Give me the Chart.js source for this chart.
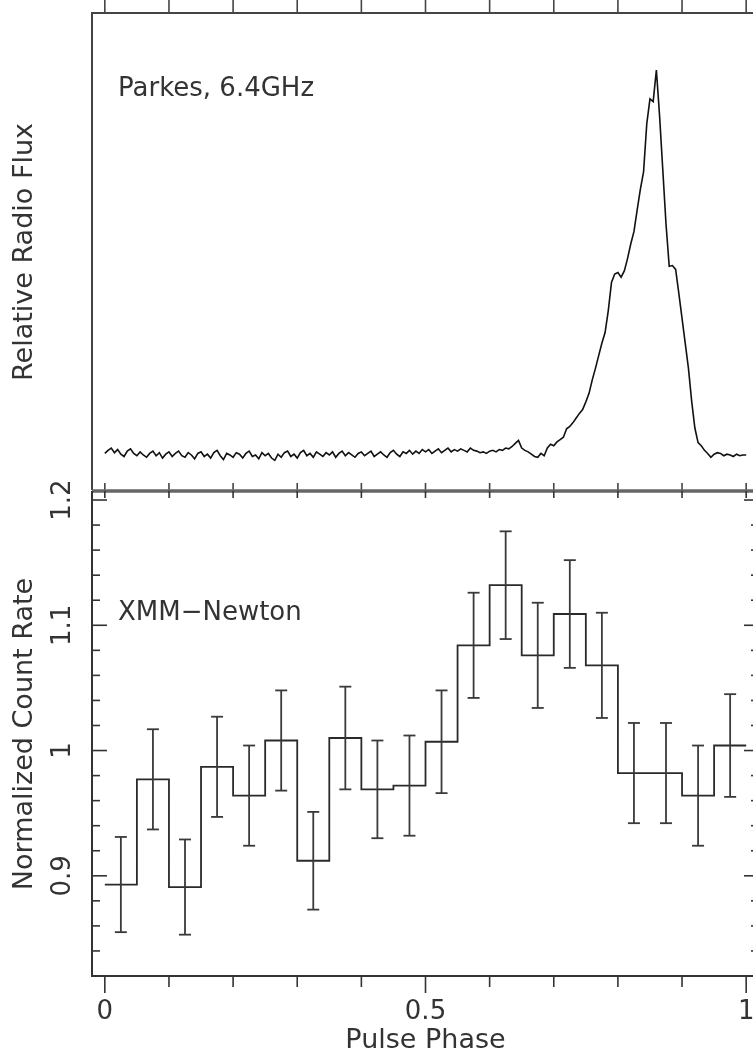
<!DOCTYPE html>
<html>
<head>
<meta charset="utf-8">
<title>Pulse profiles</title>
<script src="https://cdn.jsdelivr.net/npm/chart.js@4.4.1/dist/chart.umd.min.js"></script>
<style>
  html, body { margin: 0; padding: 0; background: #fff; overflow: hidden; width: 753px; height: 1050px; }
  canvas { position: absolute; left: 0; top: 0; }
</style>
</head>
<body>
<canvas id="radioChart" width="770" height="1050"></canvas>
<canvas id="xrayChart" width="770" height="1050"></canvas>
<script>
// --- radio profile (Parkes 6.4 GHz), relative flux, baseline ~0, peak 1
const radioPhase = [
  0.000, 0.005, 0.010, 0.015, 0.020, 0.025, 0.030, 0.035, 0.040, 0.045,
  0.050, 0.055, 0.060, 0.065, 0.070, 0.075, 0.080, 0.085, 0.090, 0.095,
  0.100, 0.105, 0.110, 0.115, 0.120, 0.125, 0.130, 0.135, 0.140, 0.145,
  0.150, 0.155, 0.160, 0.165, 0.170, 0.175, 0.180, 0.185, 0.190, 0.195,
  0.200, 0.205, 0.210, 0.215, 0.220, 0.225, 0.230, 0.235, 0.240, 0.245,
  0.250, 0.255, 0.260, 0.265, 0.270, 0.275, 0.280, 0.285, 0.290, 0.295,
  0.300, 0.305, 0.310, 0.315, 0.320, 0.325, 0.330, 0.335, 0.340, 0.345,
  0.350, 0.355, 0.360, 0.365, 0.370, 0.375, 0.380, 0.385, 0.390, 0.395,
  0.400, 0.405, 0.410, 0.415, 0.420, 0.425, 0.430, 0.435, 0.440, 0.445,
  0.450, 0.455, 0.460, 0.465, 0.470, 0.475, 0.480, 0.485, 0.490, 0.495,
  0.500, 0.505, 0.510, 0.515, 0.520, 0.525, 0.530, 0.535, 0.540, 0.545,
  0.550, 0.555, 0.560, 0.565, 0.570, 0.575, 0.580, 0.585, 0.590, 0.595,
  0.600, 0.605, 0.610, 0.615, 0.620, 0.625, 0.630, 0.635, 0.640, 0.645,
  0.650, 0.655, 0.660, 0.665, 0.670, 0.675, 0.680, 0.685, 0.690, 0.695,
  0.700, 0.705, 0.710, 0.715, 0.720, 0.725, 0.730, 0.735, 0.740, 0.745,
  0.750, 0.755, 0.760, 0.765, 0.770, 0.775, 0.780, 0.785, 0.790, 0.795,
  0.800, 0.805, 0.810, 0.815, 0.820, 0.825, 0.830, 0.835, 0.840, 0.845,
  0.850, 0.855, 0.860, 0.865, 0.870, 0.875, 0.880, 0.885, 0.890, 0.895,
  0.900, 0.905, 0.910, 0.915, 0.920, 0.925, 0.930, 0.935, 0.940, 0.945,
  0.950, 0.955, 0.960, 0.965, 0.970, 0.975, 0.980, 0.985, 0.990, 0.995,
  1.000
];
const radioFlux = [
  0.004, 0.012, 0.018, 0.006, 0.014, 0.002, -0.004, 0.010, 0.016, 0.004,
  -0.002, 0.008, 0.000, -0.006, 0.004, 0.010, -0.002, 0.006, -0.008, 0.002,
  0.008, -0.004, 0.004, 0.010, -0.002, -0.006, 0.006, 0.000, -0.010, 0.004,
  0.008, -0.004, 0.002, -0.008, 0.006, 0.012, -0.002, -0.012, 0.004, 0.000,
  -0.006, 0.006, 0.002, -0.008, 0.004, 0.010, -0.004, 0.000, -0.010, 0.006,
  -0.002, 0.004, -0.008, -0.014, 0.002, -0.006, 0.006, 0.010, -0.004, 0.002,
  -0.008, 0.006, 0.012, -0.002, 0.004, -0.006, 0.008, 0.002, -0.004, 0.006,
  0.000, 0.008, -0.006, 0.004, 0.010, -0.002, 0.006, 0.000, -0.006, 0.004,
  0.008, -0.002, 0.004, 0.010, -0.004, 0.002, 0.008, 0.000, -0.006, 0.006,
  0.012, 0.002, -0.004, 0.008, 0.004, 0.012, 0.002, 0.010, 0.004, 0.014,
  0.008, 0.014, 0.004, 0.010, 0.016, 0.006, 0.012, 0.018, 0.008, 0.014,
  0.010, 0.016, 0.012, 0.008, 0.018, 0.012, 0.010, 0.006, 0.008, 0.004,
  0.010, 0.012, 0.008, 0.014, 0.012, 0.018, 0.016, 0.022, 0.030, 0.038,
  0.018, 0.012, 0.008, 0.002, -0.004, -0.006, 0.004, -0.002, 0.018, 0.028,
  0.024, 0.034, 0.040, 0.046, 0.068, 0.074, 0.084, 0.096, 0.108, 0.118,
  0.138, 0.160, 0.195, 0.225, 0.258, 0.290, 0.318, 0.375, 0.448, 0.470,
  0.474, 0.462, 0.478, 0.510, 0.548, 0.580, 0.636, 0.690, 0.735, 0.860,
  0.925, 0.918, 1.000, 0.880, 0.740, 0.600, 0.490, 0.492, 0.482, 0.420,
  0.355, 0.290, 0.225, 0.140, 0.070, 0.032, 0.024, 0.012, 0.004, -0.006,
  0.002, 0.006, 0.004, -0.002, 0.002, 0.000, -0.004, 0.002, -0.002, 0.000,
  0.000
];

// --- XMM-Newton folded light curve, 20 phase bins
const binCenters = [0.025, 0.075, 0.125, 0.175, 0.225, 0.275, 0.325, 0.375, 0.425, 0.475,
                    0.525, 0.575, 0.625, 0.675, 0.725, 0.775, 0.825, 0.875, 0.925, 0.975];
const binWidth = 0.05;
const countRate = [0.893, 0.977, 0.891, 0.987, 0.964, 1.008, 0.912, 1.010, 0.969, 0.972,
                   1.007, 1.084, 1.132, 1.076, 1.109, 1.068, 0.982, 0.982, 0.964, 1.004];
const rateErr = [0.038, 0.040, 0.038, 0.040, 0.040, 0.040, 0.039, 0.041, 0.039, 0.040,
                 0.041, 0.042, 0.043, 0.042, 0.043, 0.042, 0.040, 0.040, 0.040, 0.041];

// --- axes / ticks
const xTickValues = [0, 0.1, 0.2, 0.3, 0.4, 0.5, 0.6, 0.7, 0.8, 0.9, 1];
const xMajorTicks = [0, 0.5, 1];
const xTickLabels = ['0', '0.5', '1'];
const yMinorTicks = [0.82, 0.84, 0.86, 0.88, 0.92, 0.94, 0.96, 0.98,
                     1.02, 1.04, 1.06, 1.08, 1.12, 1.14, 1.16, 1.18];
const yMajorTicks = [0.9, 1, 1.1, 1.2];
const yTickLabels = ['0.9', '1', '1.1', '1.2'];

const radioLabel = 'Parkes, 6.4GHz';
const xrayLabel = 'XMM\u2212Newton';
const radioYTitle = 'Relative Radio Flux';
const xrayYTitle = 'Normalized Count Rate';
const xTitle = 'Pulse Phase';

const FONT = '"DejaVu Sans", sans-serif';
const INK = '#333';

function seg(ctx, x1, y1, x2, y2) {
  ctx.beginPath();
  ctx.moveTo(x1, y1);
  ctx.lineTo(x2, y2);
  ctx.stroke();
}

function rotatedText(ctx, text, x, y, size) {
  ctx.save();
  ctx.translate(x, y);
  ctx.rotate(-Math.PI / 2);
  ctx.font = size + 'px ' + FONT;
  ctx.textAlign = 'center';
  ctx.textBaseline = 'middle';
  ctx.fillText(text, 0, 0);
  ctx.restore();
}

// frame + ticks for the radio panel
const radioFrame = {
  id: 'radioFrame',
  afterDraw(chart) {
    const { ctx, chartArea: a, scales: { x } } = chart;
    ctx.save();
    ctx.strokeStyle = '#444';
    ctx.lineWidth = 2;
    ctx.beginPath();
    ctx.moveTo(a.left, a.bottom);
    ctx.lineTo(a.left, a.top);
    ctx.lineTo(a.right, a.top);
    ctx.lineTo(a.right, a.bottom);
    ctx.stroke();
    ctx.lineWidth = 1.6;
    xTickValues.forEach(v => {
      const px = x.getPixelForValue(v);
      seg(ctx, px, a.top, px, 0);            // ticks of the panel above
      seg(ctx, px, a.bottom - 7, px, a.bottom);
    });
    ctx.fillStyle = INK;
    ctx.font = '26px ' + FONT;
    ctx.textAlign = 'left';
    ctx.textBaseline = 'alphabetic';
    ctx.fillText(radioLabel, 118, 96);
    rotatedText(ctx, radioYTitle, 25, 252, 27);
    ctx.restore();
  }
};

// frame, ticks, labels and error bars for the X-ray panel
const xrayFrame = {
  id: 'xrayFrame',
  afterDatasetsDraw(chart) {
    const { ctx, scales: { x, y } } = chart;
    ctx.save();
    ctx.strokeStyle = '#3a3a3a';
    ctx.lineWidth = 1.8;
    binCenters.forEach((c, i) => {
      const px = x.getPixelForValue(c);
      const top = y.getPixelForValue(countRate[i] + rateErr[i]);
      const bot = y.getPixelForValue(countRate[i] - rateErr[i]);
      seg(ctx, px, top, px, bot);
      seg(ctx, px - 6, top, px + 6, top);
      seg(ctx, px - 6, bot, px + 6, bot);
    });
    ctx.restore();
  },
  afterDraw(chart) {
    const { ctx, chartArea: a, scales: { x, y } } = chart;
    ctx.save();
    // separator between the two panels
    ctx.strokeStyle = '#666';
    ctx.lineWidth = 3.5;
    seg(ctx, a.left, a.top, a.right, a.top);
    ctx.strokeStyle = '#333';
    ctx.lineWidth = 2;
    ctx.beginPath();
    ctx.moveTo(a.left, a.top);
    ctx.lineTo(a.left, a.bottom);
    ctx.lineTo(a.right, a.bottom);
    ctx.lineTo(a.right, a.top);
    ctx.stroke();

    ctx.lineWidth = 1.6;
    xTickValues.forEach(v => {
      const px = x.getPixelForValue(v);
      const len = xMajorTicks.includes(v) ? 17 : 11;
      seg(ctx, px, a.top, px, a.top + 7);
      seg(ctx, px, a.bottom, px, a.bottom + len);
    });
    yMinorTicks.forEach(v => {
      const py = y.getPixelForValue(v);
      seg(ctx, a.left, py, a.left + 8, py);
      seg(ctx, a.right, py, a.right - 8, py);
    });
    yMajorTicks.forEach(v => {
      const py = y.getPixelForValue(v);
      seg(ctx, a.left, py, a.left + 15, py);
      seg(ctx, a.right, py, a.right - 15, py);
    });

    ctx.fillStyle = INK;
    ctx.font = '26px ' + FONT;
    ctx.textAlign = 'center';
    ctx.textBaseline = 'alphabetic';
    xMajorTicks.forEach((v, i) => {
      ctx.fillText(xTickLabels[i], x.getPixelForValue(v), 1019);
    });
    ctx.font = '27px ' + FONT;
    ctx.fillText(xTitle, x.getPixelForValue(0.5), 1048);
    yMajorTicks.forEach((v, i) => {
      rotatedText(ctx, yTickLabels[i], 63, y.getPixelForValue(v), 26);
    });
    rotatedText(ctx, xrayYTitle, 25, 734, 27);

    ctx.font = '26px ' + FONT;
    ctx.textAlign = 'left';
    ctx.fillText(xrayLabel, 118, 620);
    ctx.restore();
  }
};

const hiddenAxis = (min, max) => ({ type: 'linear', min: min, max: max, display: false });

new Chart(document.getElementById('radioChart').getContext('2d'), {
  type: 'line',
  data: {
    datasets: [{
      data: radioPhase.map((p, i) => ({ x: p, y: radioFlux[i] })),
      borderColor: '#111',
      borderWidth: 1.6,
      pointRadius: 0,
      tension: 0,
    }],
  },
  options: {
    responsive: false,
    animation: false,
    devicePixelRatio: 1,
    layout: { padding: { left: 92, right: 11, top: 13, bottom: 560 } },
    plugins: { legend: { display: false }, tooltip: { enabled: false } },
    scales: { x: hiddenAxis(-0.02, 1.02), y: hiddenAxis(-0.091, 1.148) },
  },
  plugins: [radioFrame],
});

// histogram outline: each bin contributes its left and right edge
const histPoints = [];
binCenters.forEach((c, i) => {
  histPoints.push({ x: c - binWidth / 2, y: countRate[i] });
  histPoints.push({ x: c + binWidth / 2, y: countRate[i] });
});

new Chart(document.getElementById('xrayChart').getContext('2d'), {
  type: 'line',
  data: {
    datasets: [{
      data: histPoints,
      borderColor: '#2a2a2a',
      borderWidth: 1.8,
      pointRadius: 0,
      tension: 0,
    }],
  },
  options: {
    responsive: false,
    animation: false,
    devicePixelRatio: 1,
    layout: { padding: { left: 92, right: 11, top: 491, bottom: 74 } },
    plugins: { legend: { display: false }, tooltip: { enabled: false } },
    scales: { x: hiddenAxis(-0.02, 1.02), y: hiddenAxis(0.82, 1.2072) },
  },
  plugins: [xrayFrame],
});
</script>
</body>
</html>
